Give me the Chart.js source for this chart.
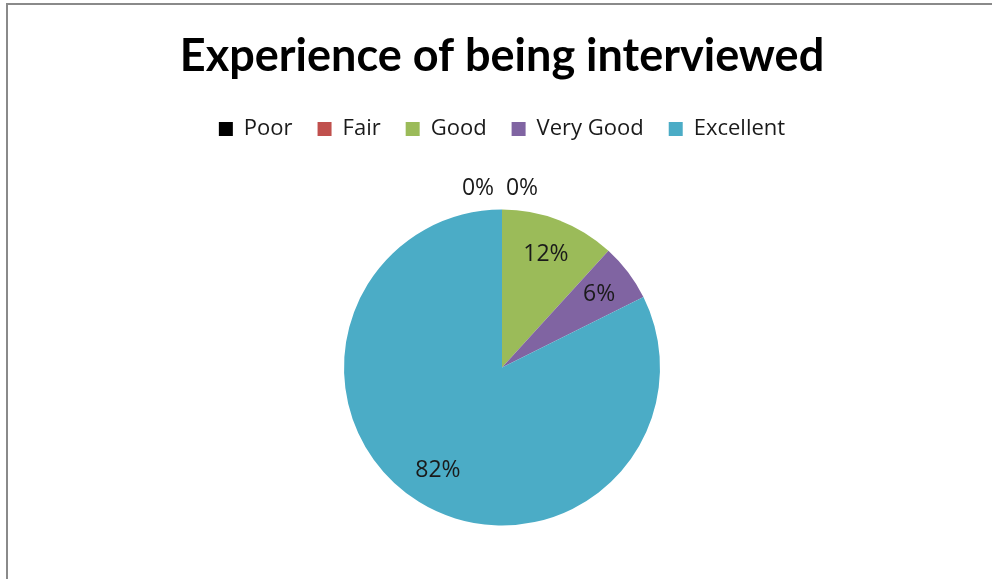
<!DOCTYPE html>
<html>
<head>
<meta charset="utf-8">
<script src="https://cdn.jsdelivr.net/npm/chart.js@4"></script>
<style>
  html, body { margin: 0; padding: 0; background: #fff; overflow: hidden; }
  #wrap { position: absolute; left: 0; top: 0; width: 992px; height: 579px; overflow: hidden; }
  #frame { position: absolute; left: 6px; top: 3px; width: 990px; height: 590px;
           border-top: 2px solid #8a8a8a; border-left: 2px solid #8a8a8a; }
  canvas { position: absolute; left: 0; top: 0; }
</style>
</head>
<body>
<div id="wrap">
  <div id="frame"></div>
  <canvas id="c" width="992" height="589"></canvas>
</div>
<script>
const titleText = "Experience of being interviewed";
const categories = ["Poor", "Fair", "Good", "Very Good", "Excellent"];
const counts = [0, 0, 2, 1, 14];
const colors = ["#000000", "#C0504D", "#9BBB59", "#8064A2", "#4BACC6"];

const TITLE_FONT = "Lato, 'Open Sans', sans-serif";
const FONT = "'Open Sans', Lato, sans-serif";

const labelPlugin = {
  id: 'sliceLabels',
  afterDatasetsDraw(chart) {
    const ctx = chart.ctx;
    const meta = chart.getDatasetMeta(0);
    const data = chart.data.datasets[0].data;
    const total = data.reduce((a, b) => a + b, 0);
    ctx.save();
    ctx.font = "23px " + FONT;
    ctx.fillStyle = "#1a1a1a";
    ctx.textAlign = "center";
    ctx.textBaseline = "middle";
    let zeroIdx = 0;
    meta.data.forEach((arc, i) => {
      const v = data[i];
      const txt = Math.round(v / total * 100) + "%";
      const p = arc.getProps(['x', 'y', 'startAngle', 'endAngle', 'outerRadius'], true);
      if (v === 0) {
        const offsets = [-24, 20];
        ctx.fillText(txt, p.x + offsets[zeroIdx % 2], p.y - p.outerRadius - 21);
        zeroIdx++;
      } else {
        const mid = (p.startAngle + p.endAngle) / 2;
        const r = p.outerRadius * 0.77;
        ctx.fillText(txt, p.x + Math.cos(mid) * r, p.y + Math.sin(mid) * r);
      }
    });
    ctx.restore();
  }
};

new Chart(document.getElementById('c'), {
  type: 'pie',
  data: {
    labels: categories,
    datasets: [{
      data: counts,
      backgroundColor: colors,
      borderWidth: 0,
      hoverOffset: 0,
      radius: 158
    }]
  },
  options: {
    responsive: false,
    animation: false,
    events: [],
    layout: { padding: { left: 12, right: 0, top: 4, bottom: 4 } },
    plugins: {
      title: {
        display: true,
        text: titleText,
        color: "#000",
        font: { family: TITLE_FONT, size: 45, weight: 'bold' },
        padding: { top: 25, bottom: 10 }
      },
      legend: {
        display: true,
        position: 'top',
        labels: {
          color: "#1a1a1a",
          font: { family: FONT, size: 22 },
          boxWidth: 14,
          boxHeight: 14,
          padding: 25
        }
      },
      tooltip: { enabled: false }
    }
  },
  plugins: [labelPlugin]
});
</script>
</body>
</html>
